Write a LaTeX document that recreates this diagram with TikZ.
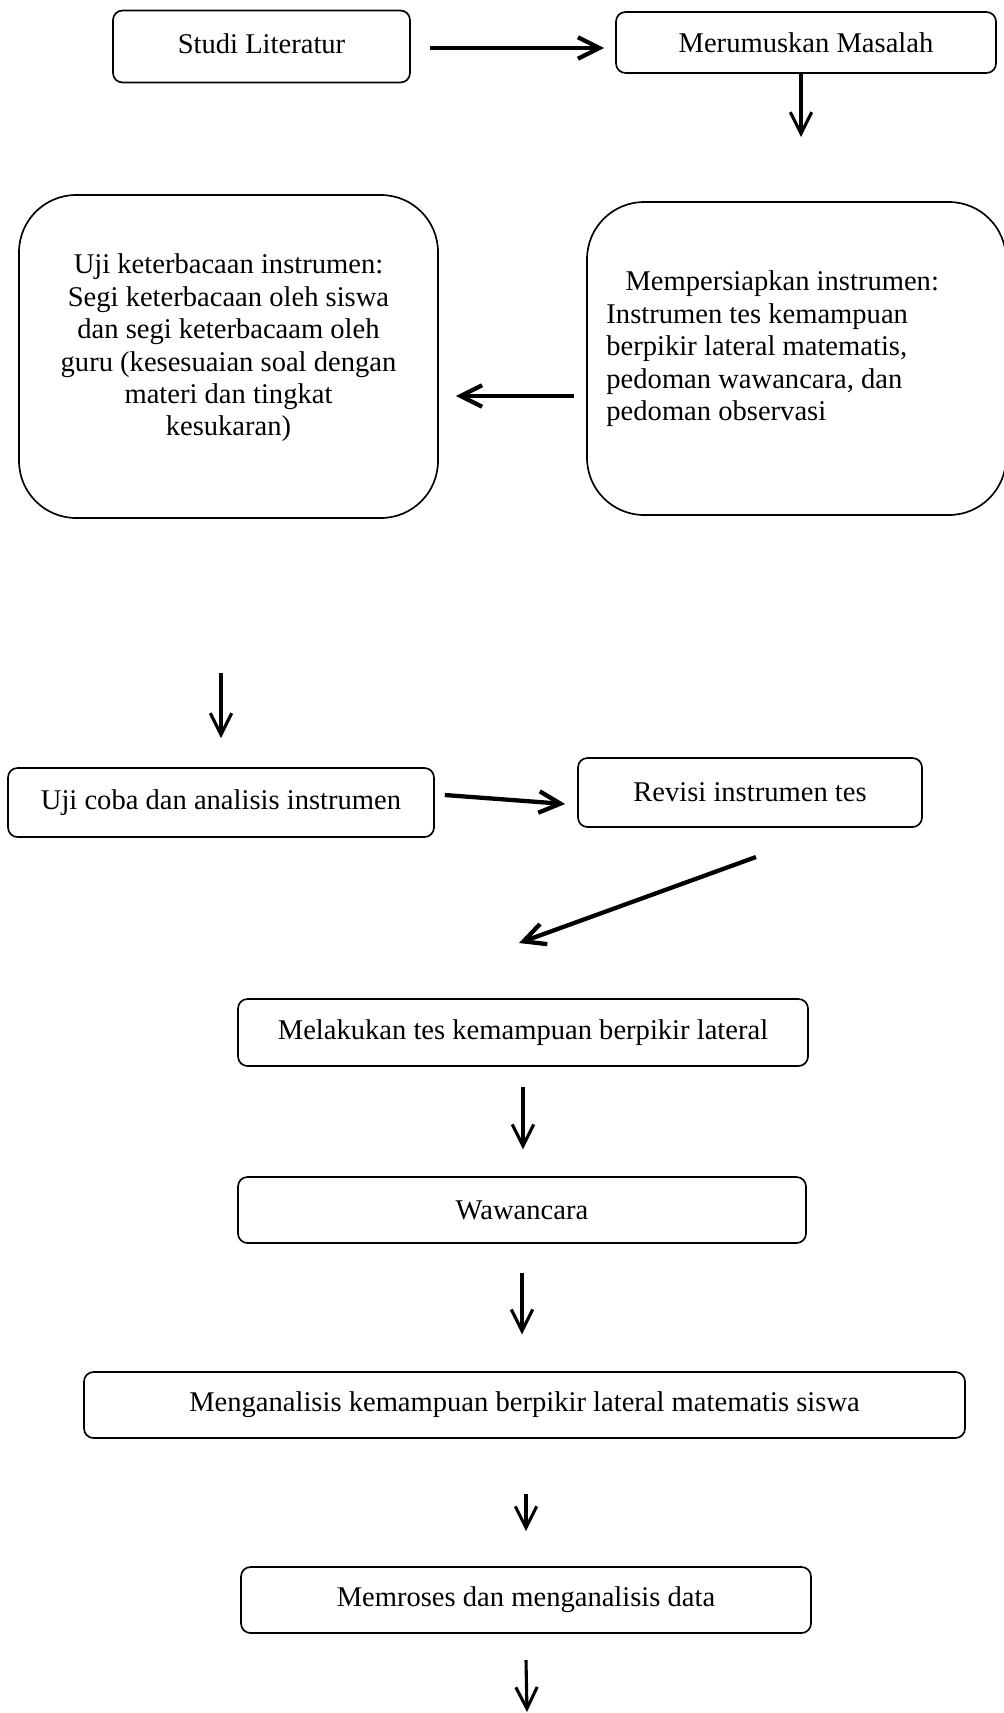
\documentclass[tikz,border=0pt]{standalone}
\usepackage{fontspec}
\setmainfont{Liberation Serif}
\usetikzlibrary{arrows.meta}

\tikzset{
  stepbox/.style={draw, line width=0.7pt, rounded corners=4pt, inner sep=0pt,
    font=\fontsize{12}{13.6}\selectfont, align=center},
  bigbox/.style={stepbox, rounded corners=24pt},
  flow/.style={-{Straight Barb[length=9pt,width=9pt]}, line width=1.3pt},
  flowthick/.style={flow, line width=1.8pt},
}

\begin{document}
\begin{tikzpicture}[x=0.42pt, y=-0.42pt]
	\def\u{0.42pt}
	\useasboundingbox (0,0) rectangle (1004,1713);

	% --- tahap awal ---
	\node[stepbox, minimum width=297*\u, minimum height=72*\u] (studi) at (261.5,46.5) {\raisebox{2.3pt}{Studi Literatur}};
	\node[stepbox, minimum width=380*\u, minimum height=61*\u] (rumusan) at (806,42.5) {Merumuskan Masalah};

	\node[bigbox, minimum width=419*\u, minimum height=323*\u] (ujibaca) at (228.5,356.5)
		{Uji keterbacaan instrumen:\\Segi keterbacaan oleh siswa\\dan segi keterbacaam oleh\\guru (kesesuaian soal dengan\\materi dan tingkat\\kesukaran)\\[-8pt]\strut};
	\node[bigbox, align=left, minimum width=419*\u, minimum height=313*\u] (persiapan) at (796.5,358.5)
		{\hspace*{8pt}Mempersiapkan instrumen:\hspace*{20pt}\\Instrumen tes kemampuan\\berpikir lateral matematis,\\pedoman wawancara, dan\\pedoman observasi\\[-7pt]\strut};

	% --- uji coba ---
	\node[stepbox, minimum width=426*\u, minimum height=69*\u] (ujicoba) at (221,802.5) {Uji coba dan analisis instrumen};
	\node[stepbox, minimum width=344*\u, minimum height=69*\u] (revisi) at (750,792.5) {Revisi instrumen tes};

	% --- pelaksanaan ---
	\node[stepbox, minimum width=570*\u, minimum height=67*\u] (tes) at (523,1032.5) {Melakukan tes kemampuan berpikir lateral};
	\node[stepbox, minimum width=568*\u, minimum height=66*\u] (wawancara) at (522,1210) {Wawancara};
	\node[stepbox, minimum width=881*\u, minimum height=66*\u] (analisis) at (524.5,1405) {Menganalisis kemampuan berpikir lateral matematis siswa};
	\node[stepbox, minimum width=570*\u, minimum height=66*\u] (olahdata) at (526,1600) {Memroses dan menganalisis data};

	% free arrow ends
	\coordinate (rumusanEnd) at (801,137);
	\coordinate (turunA) at (221,673);
	\coordinate (turunB) at (221,738);
	\coordinate (miringA) at (756,857);
	\coordinate (miringB) at (519,943);
	\coordinate (akhir) at (527,1712);

	% --- arrows ---
	\draw[flowthick] ([shift={(19,1.5)}]studi.east) -- ([shift={(-11,5.5)}]rumusan.west);
	\draw[flow] ([xshift=-5*\u]rumusan.south) -- (rumusanEnd);
	\draw[flowthick] ([shift={(-12,37.5)}]persiapan.west) -- ([shift={(17,39.5)}]ujibaca.east);
	\draw[flow] (turunA) -- (turunB);
	\draw[flowthick] ([shift={(10,-7.5)}]ujicoba.east) -- ([shift={(-12,11.5)}]revisi.west);
	\draw[flowthick] (miringA) -- (miringB);
	\draw[flow, shorten <=8.4pt, shorten >=11.3pt] (tes.south) -- (tes.south |- wawancara.north);
	\draw[flow, shorten <=12.2pt, shorten >=15.5pt] (wawancara.south) -- (wawancara.south |- analisis.north);
	\draw[flow, shorten <=23.1pt, shorten >=14.7pt] ([xshift=1.5*\u]analisis.south) -- ([xshift=1.5*\u]analisis.south |- olahdata.north);
	\draw[flow] (olahdata.south |- 0,1660) -- (akhir);

\end{tikzpicture}
\end{document}
